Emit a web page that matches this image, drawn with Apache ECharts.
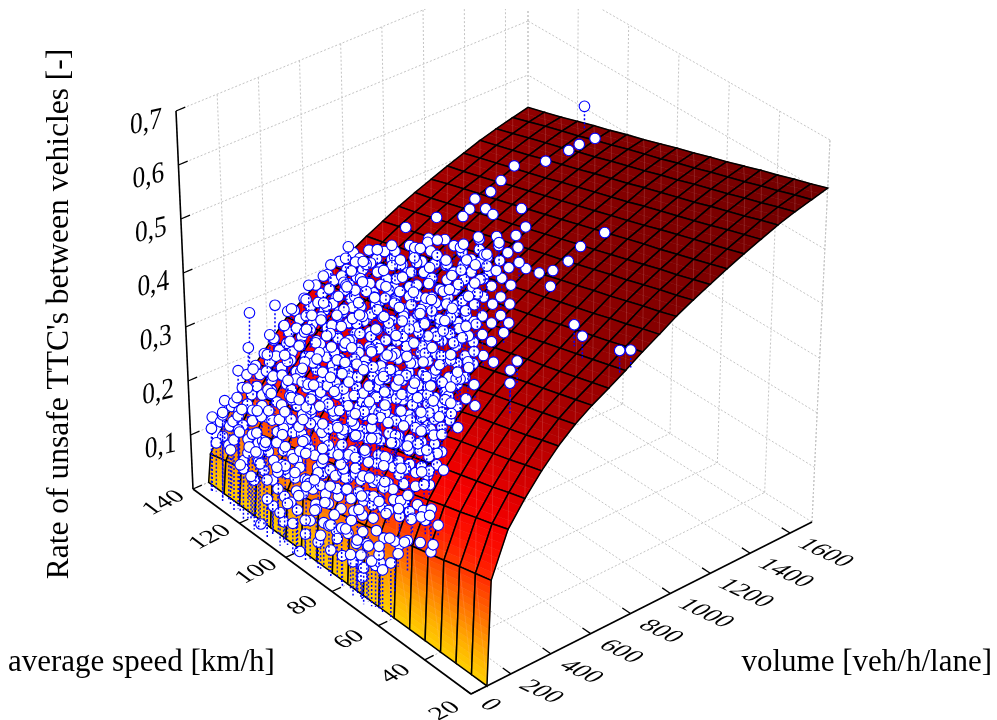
<!DOCTYPE html>
<html><head><meta charset="utf-8">
<style>html,body{margin:0;padding:0;background:#fff}#c{width:997px;height:720px}</style>
<script src="https://cdn.jsdelivr.net/npm/echarts@6/dist/echarts.min.js"></script>
</head><body><div id="c"></div>
<script>
const speedTicks=[20,40,60,80,100,120,140];
const volumeTicks=[0,200,400,600,800,1000,1200,1400,1600];
const rateTicks=[0.1,0.2,0.3,0.4,0.5,0.6,0.7];
const rateLabels=['0,1','0,2','0,3','0,4','0,5','0,6','0,7'];
const titleRate="Rate of unsafe TTC's between vehicles [-]";
const titleSpeed='average speed [km/h]';
const titleVolume='volume [veh/h/lane]';
const surfaceSpeeds=[20,26.67,33.33,40,46.67,53.33,60,66.67,73.33,80,86.67,93.33,100,106.67,113.33,120,126.67,133.33,140];
const surfaceVolumes=[80,95,176,257,338,419,500,581,662,743,824,905,986,1067,1148,1229,1310,1391,1472,1553,1634,1710];
const surfaceRates=[
[0,.18,.255,.295,.33,.36,.385,.405,.422,.44,.46,.478,.497,.513,.528,.543,.557,.57,.583,.594,.603,.612],
[0,.173,.246,.287,.322,.352,.377,.397,.414,.432,.452,.47,.488,.504,.519,.534,.548,.561,.574,.585,.594,.602],
[0,.166,.238,.278,.313,.343,.369,.389,.406,.424,.443,.461,.48,.496,.51,.525,.539,.552,.564,.575,.584,.593],
[0,.158,.229,.27,.305,.335,.361,.381,.398,.416,.435,.453,.471,.487,.502,.516,.53,.542,.555,.566,.575,.583],
[0,.151,.221,.262,.297,.327,.353,.373,.39,.408,.427,.444,.462,.478,.493,.507,.521,.533,.546,.556,.565,.574],
[0,.144,.212,.254,.289,.319,.345,.365,.383,.4,.419,.436,.454,.47,.484,.499,.512,.524,.536,.547,.556,.564],
[0,.137,.203,.245,.28,.31,.336,.356,.375,.391,.41,.428,.445,.461,.475,.49,.502,.515,.527,.538,.547,.554],
[0,.13,.195,.237,.272,.302,.328,.348,.367,.383,.402,.419,.437,.452,.466,.481,.493,.506,.518,.528,.537,.545],
[0,.122,.186,.229,.264,.294,.32,.34,.359,.375,.394,.411,.428,.443,.458,.472,.484,.496,.509,.519,.528,.535],
[0,.115,.178,.22,.255,.285,.312,.332,.351,.367,.385,.402,.42,.435,.449,.463,.475,.487,.499,.509,.518,.526],
[0,.108,.169,.212,.247,.277,.304,.324,.343,.359,.377,.394,.411,.426,.44,.454,.466,.478,.49,.5,.509,.516],
[0,.101,.16,.204,.239,.269,.296,.316,.335,.351,.369,.386,.402,.417,.431,.445,.457,.469,.481,.491,.5,.506],
[0,.094,.152,.195,.23,.26,.288,.308,.327,.343,.36,.377,.394,.409,.422,.436,.448,.46,.471,.481,.49,.497],
[0,.086,.143,.187,.222,.252,.28,.3,.319,.335,.352,.369,.385,.4,.414,.427,.439,.45,.462,.472,.481,.487],
[0,.079,.135,.179,.214,.244,.272,.292,.311,.327,.344,.36,.377,.391,.405,.418,.43,.441,.453,.462,.471,.478],
[0,.072,.126,.171,.206,.236,.264,.284,.304,.319,.336,.352,.368,.383,.396,.41,.42,.432,.443,.453,.462,.468],
[0,.065,.117,.162,.197,.227,.255,.275,.296,.31,.327,.344,.359,.374,.387,.401,.411,.423,.434,.444,.453,.458],
[0,.058,.109,.154,.189,.219,.247,.267,.288,.302,.319,.335,.351,.365,.378,.392,.402,.414,.425,.434,.443,.449],
[0,.05,.10,.145,.18,.21,.24,.26,.28,.295,.31,.327,.342,.357,.37,.382,.394,.405,.416,.425,.433,.44]];
// single observations: speed, volume, rate
const outliers=[114,1671,.518,112,1457,.456,119.5,1393,.437,108.5,1528,.474,107.4,1566,.482,105.4,1619,.49,118.3,1313,.426,117.3,1250,.418,119.7,1201,.406,117.8,1152,.40,117.1,1110,.395,124.8,1072,.378,130.5,987,.357,119.6,970,.37,112.9,1172,.411,108.6,1156,.415,102,1217,.434,94.5,1147,.432,70,1121,.467,67.3,1206,.486,68.5,1043,.457,70,986,.445,66,926,.437,43,766,.456,37,734,.457,21,724,.476,19.5,760,.475,79.4,967,.426,74,967,.433,48,514,.402,49,560,.408,43.5,459,.40,126,155,.343,122,235,.356,121,285,.34,127,155,.276,123,235,.289,130,135,.228,129,85,.173,131.6,65,.113,115.8,60,.002,111,70,.048,106.6,70,.033,99,60,.004,67,70,.074,72,60,.04,75,70,.057,61,120,.12,51,160,.13];
// observations grouped by speed: volume, rate, volume, rate ...
const at135=[55,.14,70,.09,95,.125,120,.16,140,.11,165,.15,190,.13,210,.17,235,.19,255,.15,280,.20,300,.18,325,.215,350,.195,375,.235,400,.21,425,.25,450,.235,480,.27,505,.25,530,.285,560,.265,590,.30,620,.28,650,.31,680,.295,710,.325,745,.305,780,.33,810,.315];
const at130=[50,.16,75,.10,100,.14,125,.18,150,.125,175,.16,200,.145,225,.185,250,.165,275,.205,300,.185,325,.225,350,.20,380,.24,405,.22,430,.26,455,.24,480,.275,510,.255,540,.29,570,.27,600,.305,630,.285,660,.32,695,.30,730,.335,765,.315,800,.345,835,.325];
const at125=[45,.13,70,.17,90,.085,115,.12,140,.15,165,.105,190,.17,215,.145,240,.19,265,.165,290,.21,315,.19,340,.23,365,.205,390,.25,415,.225,440,.27,470,.245,495,.285,525,.26,555,.30,585,.28,615,.315,645,.295,675,.33,710,.31,745,.345,780,.325,815,.355,850,.335];
const at120=[30,.095,55,.12,80,.15,105,.10,130,.13,155,.115,180,.16,205,.135,230,.18,255,.155,280,.20,305,.18,330,.225,355,.20,380,.245,405,.22,430,.26,460,.24,490,.285,515,.26,545,.30,575,.275,605,.32,635,.295,670,.335,700,.31,735,.35,770,.325,805,.36,845,.34,880,.37];
const at115=[25,.09,50,.12,75,.10,100,.13,125,.11,150,.14,175,.12,200,.165,225,.145,250,.19,275,.17,300,.215,325,.195,350,.24,375,.215,400,.255,430,.235,460,.28,490,.26,515,.30,545,.275,575,.32,605,.295,640,.335,670,.315,705,.35,740,.33,775,.365,810,.345,845,.375,880,.355,910,.385];
const at110=[30,.07,60,.10,85,.08,110,.12,135,.10,160,.13,185,.115,210,.16,235,.14,260,.19,285,.17,310,.215,335,.20,360,.245,385,.225,410,.265,440,.245,470,.29,500,.27,530,.315,560,.29,590,.335,620,.31,655,.35,690,.33,725,.365,760,.34,795,.38,830,.355,865,.39,900,.37,935,.40];
const at105=[35,.06,60,.085,90,.07,115,.11,140,.125,165,.10,190,.15,215,.135,240,.18,265,.16,290,.21,315,.19,340,.235,365,.215,390,.26,420,.24,445,.285,475,.265,505,.305,535,.285,565,.33,595,.305,630,.35,665,.33,700,.365,735,.345,770,.38,805,.36,840,.395,880,.375,920,.405,960,.385];
const at100=[40,.055,65,.075,95,.10,120,.12,145,.10,170,.135,195,.12,220,.165,245,.15,270,.195,295,.175,320,.225,345,.205,370,.25,395,.23,425,.275,455,.255,485,.30,515,.28,545,.325,575,.30,610,.345,645,.325,680,.365,715,.345,750,.385,790,.36,825,.40,860,.38,900,.41,945,.39,985,.42];
const at95=[45,.05,70,.07,100,.095,125,.125,150,.105,175,.145,200,.13,225,.175,250,.155,275,.205,300,.185,325,.235,350,.215,375,.26,405,.24,430,.285,460,.265,490,.31,520,.29,550,.335,585,.31,620,.355,655,.335,690,.375,725,.355,765,.395,805,.37,845,.41,885,.39,925,.425,965,.405,1010,.435];
const at90=[50,.05,80,.08,105,.11,130,.135,155,.115,180,.155,205,.14,230,.185,255,.165,280,.215,305,.195,330,.245,355,.225,385,.27,410,.25,440,.295,470,.275,500,.32,530,.30,565,.345,600,.325,635,.365,670,.345,710,.385,750,.365,790,.405,830,.385,870,.425,915,.40,960,.44,1005,.42,1045,.445];
const at85=[55,.05,85,.08,110,.115,135,.145,160,.125,185,.165,210,.15,235,.195,260,.175,285,.225,310,.205,340,.255,365,.235,395,.28,425,.26,455,.305,485,.285,515,.33,550,.31,585,.355,620,.335,660,.375,700,.355,740,.395,780,.375,825,.415,865,.395,905,.435,950,.415,995,.445];
const at80=[55,.055,85,.09,115,.125,140,.155,165,.135,190,.175,215,.16,240,.205,265,.185,295,.235,320,.215,350,.265,375,.245,405,.29,435,.27,465,.315,495,.295,530,.34,565,.32,600,.365,640,.345,680,.385,720,.365,765,.405,810,.385,855,.425,900,.405,940,.44];
const at75=[50,.06,75,.095,100,.135,125,.165,150,.145,175,.185,200,.17,230,.215,255,.195,285,.245,310,.225,340,.275,370,.255,400,.30,430,.28,465,.325,500,.305,540,.35,575,.33,615,.375,655,.355,700,.395,745,.375,790,.415,835,.395];
const at70=[45,.065,70,.10,95,.145,120,.175,145,.155,170,.195,195,.18,225,.225,250,.205,280,.255,310,.235,340,.285,370,.265,405,.31,440,.29,475,.335,515,.315,555,.36,595,.34,640,.385,685,.365,730,.405,770,.385];
const at65=[70,.085,90,.125,115,.17,140,.185,165,.165,190,.205,220,.235,250,.215,280,.265,310,.245,345,.295,380,.275,415,.32,455,.30,495,.345,540,.325,585,.37,635,.35,685,.395];
const at60=[65,.10,85,.135,110,.175,135,.195,160,.175,190,.215,220,.245,250,.225,285,.275,320,.255,360,.305,400,.285,440,.33,485,.31];
const at55=[90,.15,115,.185,140,.205,170,.19,200,.23,235,.26,270,.245];
const at50=[95,.16,120,.195,150,.21];
const at45=[100,.17,125,.20];
const speedGroups=[[135,at135],[130,at130],[125,at125],[120,at120],[115,at115],[110,at110],[105,at105],[100,at100],[95,at95],[90,at90],[85,at85],[80,at80],[75,at75],[70,at70],[65,at65],[60,at60],[55,at55],[50,at50],[45,at45]];
// further observations in the dense core: speed, volume, rate
const denseCore=[128,104,.13,121,118,.107,116,101,.138,110,122,.11,105,108,.146,99,116,.118,94,103,.154,88,125,.14,83,112,.176,77,106,.138,72,120,.174,66,113,.162,61,127,.197,55,109,.184,
131,158,.15,126,171,.12,122,150,.165,117,166,.13,113,155,.17,108,176,.14,103,148,.18,98,169,.15,94,157,.195,89,172,.165,85,152,.205,80,163,.18,75,175,.215,70,149,.19,65,167,.225,60,156,.205,55,173,.235,
133,212,.175,128,200,.15,124,219,.19,119,205,.16,115,224,.205,110,198,.175,106,215,.215,101,207,.19,97,226,.23,92,201,.195,88,218,.24,83,209,.21,79,222,.25,74,204,.225,70,216,.26,65,199,.23,61,225,.27,56,211,.25,
134,255,.20,129,268,.175,125,250,.215,120,272,.19,116,258,.235,111,248,.20,107,265,.245,102,275,.215,98,252,.26,93,263,.225,89,270,.27,84,256,.24,80,247,.28,75,268,.25,71,259,.29,66,273,.26,62,251,.30,57,262,.27,
132,305,.225,127,318,.20,123,300,.24,118,312,.215,114,322,.26,109,298,.225,105,309,.27,100,320,.24,96,303,.285,91,315,.25,87,325,.295,82,301,.265,78,311,.305,73,319,.275,69,299,.315,64,313,.285,60,323,.325,
135,355,.245,130,368,.22,126,350,.26,121,362,.235,117,372,.28,112,348,.245,108,359,.29,103,370,.26,99,353,.305,94,365,.27,90,375,.315,85,351,.285,81,361,.325,76,369,.295,72,349,.335,67,363,.305,63,373,.345,59,356,.32,
133,405,.26,128,418,.235,124,400,.275,119,412,.25,115,422,.295,110,398,.265,106,409,.31,101,420,.275,97,403,.325,92,415,.29,88,425,.335,83,401,.305,79,411,.345,74,419,.315,70,399,.355,65,413,.325,61,423,.365,
134,455,.28,129,468,.255,125,450,.295,120,462,.27,116,472,.315,111,448,.285,107,459,.33,102,470,.295,98,453,.345,93,465,.31,89,475,.355,84,451,.325,80,461,.365,75,469,.335,71,449,.375,66,463,.345,62,473,.385,
132,505,.295,127,518,.27,123,500,.31,118,512,.285,114,522,.33,109,498,.30,105,509,.345,100,520,.31,96,503,.36,91,515,.325,87,525,.37,82,501,.34,78,511,.38,73,519,.35,69,499,.39,65,513,.36,
135,555,.305,130,568,.285,126,550,.325,121,562,.30,117,572,.345,112,548,.315,108,559,.36,103,570,.325,99,553,.375,94,565,.34,90,575,.385,85,551,.355,81,561,.395,76,569,.365,72,549,.405,67,563,.375,
133,605,.32,128,618,.295,124,600,.335,119,612,.31,115,622,.355,110,598,.325,106,609,.37,101,620,.335,97,603,.385,92,615,.35,88,625,.395,83,601,.365,79,611,.405,74,619,.375,70,599,.415,
134,655,.33,129,668,.305,125,650,.345,120,662,.32,116,672,.365,111,648,.335,107,659,.38,102,670,.345,98,653,.395,93,665,.36,89,675,.405,84,651,.375,80,661,.415,75,669,.385,
132,705,.34,127,718,.315,123,700,.355,118,712,.33,114,722,.375,109,698,.345,105,709,.39,100,720,.355,96,703,.405,91,715,.37,87,725,.415,82,701,.385,78,711,.425,
135,755,.345,130,768,.33,126,750,.365,121,762,.34,117,772,.385,112,748,.355,108,759,.40,103,770,.365,99,753,.415,94,765,.38,90,775,.425,85,751,.395,81,761,.435,
128,815,.35,123,828,.37,118,810,.36,113,822,.395,108,835,.37,103,812,.41,98,825,.385,93,838,.425,88,818,.40,84,830,.44,
116,885,.375,110,898,.405,105,880,.385,100,892,.42,95,905,.40,90,888,.435,86,900,.415,
104,955,.405,99,968,.43,94,950,.415,90,962,.445];
// observations at lower volumes, front of the cloud: speed, volume, rate
const lowerCore=[136,60,.115,133,85,.15,128,60,.10,126,85,.135,124,60,.085,122,85,.12,119,55,.08,117,80,.105,
118,72,.125,113,66,.09,109,78,.115,104,62,.075,101,74,.105,97,68,.065,93,79,.095,90,63,.06,87,71,.085,84,77,.07,81,65,.10,78,73,.06,76,79,.085,73,67,.075,71,74,.10,68,62,.08,66,76,.095,64,70,.075,
116,92,.14,111,98,.105,107,90,.13,102,96,.09,98,88,.12,95,94,.085,91,99,.11,88,92,.08,86,87,.105,82,97,.09,79,91,.115,77,96,.085,74,89,.11,72,93,.09,69,99,.125,67,88,.105,63,95,.13,59,90,.115,57,98,.14,
119,133,.13,114,128,.10,111,139,.145,106,126,.115,102,136,.16,98,130,.125,95,141,.17,91,127,.135,87,135,.185,84,129,.15,81,138,.195,78,132,.155,74,126,.20,71,137,.165,68,131,.21,63,140,.175,58,128,.215,53,135,.19,49,130,.205,
122,188,.17,117,195,.14,112,183,.185,108,192,.155,104,186,.20,100,197,.165,96,184,.215,93,193,.175,90,187,.23,86,196,.19,83,182,.24,80,191,.20,77,198,.25,73,185,.215,69,194,.265,66,189,.23,62,181,.275,58,197,.245,54,186,.285,
125,238,.185,120,245,.165,116,233,.205,112,242,.175,108,236,.225,104,247,.19,100,231,.24,97,240,.205,93,246,.255,89,235,.215,86,243,.265,82,232,.23,79,241,.275,75,248,.24,72,234,.29,68,244,.255,64,237,.30,60,246,.27,56,233,.31,
122,288,.21,118,295,.185,113,283,.23,109,292,.20,105,286,.25,101,297,.215,98,284,.265,94,293,.23,90,287,.28,87,296,.24,84,282,.29,80,291,.255,77,298,.305,73,285,.27,70,294,.315,66,289,.28,62,281,.325,58,297,.295,
120,338,.23,116,345,.21,111,333,.25,107,342,.225,103,336,.27,99,347,.24,96,331,.285,92,340,.25,88,346,.30,85,335,.265,81,343,.31,78,332,.275,74,341,.325,71,348,.29,67,334,.335,63,344,.305,60,337,.345,
118,388,.245,113,395,.225,109,383,.27,105,392,.24,101,386,.285,97,397,.255,94,384,.30,90,393,.265,87,387,.315,83,396,.28,80,382,.325,76,391,.295,73,398,.34,69,385,.31,66,394,.35,62,389,.325,
116,438,.265,111,445,.25,107,433,.29,103,442,.26,99,436,.305,95,447,.27,92,431,.32,88,440,.285,85,446,.335,81,435,.30,78,443,.345,74,432,.315,71,441,.36,67,448,.33,63,434,.37,
122,538,.29,116,545,.30,112,533,.32,106,542,.31,102,536,.345,98,547,.32,94,531,.36,90,540,.33,86,546,.375,82,535,.345,78,543,.385,74,532,.355,70,541,.395,
126,638,.315,120,645,.34,114,633,.33,110,642,.36,104,636,.34,99,647,.38,95,631,.355,91,640,.39,86,646,.365,82,635,.40,77,643,.38];

// ranges of the 3D box
const S0=20,S1=140,V1=1710,Z1=0.7;
// screen positions of the box corners (perspective view, in the hidden 2D axes' units)
const C={f0:[471,694],l0:[193,489],r0:[812,522],b0:[528,345],f1:[475,288],l1:[176,111],r1:[830,140],b1:[528,-33]};
function proj(s,v,z){
  const a=(s-S0)/(S1-S0),b=v/V1,c=z/Z1,o=[];
  for(let i=0;i<2;i++){
    const lo=C.f0[i]*(1-a)*(1-b)+C.l0[i]*a*(1-b)+C.r0[i]*(1-a)*b+C.b0[i]*a*b;
    const hi=C.f1[i]*(1-a)*(1-b)+C.l1[i]*a*(1-b)+C.r1[i]*(1-a)*b+C.b1[i]*a*b;
    o.push(lo*(1-c)+hi*c);
  }
  return o;
}
function surfAt(s,v){
  if(v<=surfaceVolumes[0])return 0;
  let i=0,j=0;
  while(i<surfaceSpeeds.length-2&&surfaceSpeeds[i+1]<s)i++;
  while(j<surfaceVolumes.length-2&&surfaceVolumes[j+1]<v)j++;
  const a=Math.min(1,Math.max(0,(s-surfaceSpeeds[i])/(surfaceSpeeds[i+1]-surfaceSpeeds[i])));
  const b=Math.min(1,Math.max(0,(v-surfaceVolumes[j])/(surfaceVolumes[j+1]-surfaceVolumes[j])));
  const q=surfaceRates;
  return q[i][j]*(1-a)*(1-b)+q[i+1][j]*a*(1-b)+q[i][j+1]*(1-a)*b+q[i+1][j+1]*a*b;
}
const stops=[[0,255,208,0],[.05,255,170,0],[.1,255,120,0],[.15,255,70,0],[.2,255,20,0],[.25,245,0,0],[.3,215,0,0],[.35,185,0,0],[.4,160,0,0],[.45,140,0,0],[.5,130,0,0],[.6,115,0,0],[.7,105,0,0]];
function colorOf(z){
  let i=0;while(i<stops.length-2&&stops[i+1][0]<z)i++;
  const p=stops[i],q=stops[i+1],t=Math.max(0,Math.min(1,(z-p[0])/(q[0]-p[0])));
  return 'rgb('+[1,2,3].map(k=>Math.round(p[k]+(q[k]-p[k])*t)).join(',')+')';
}
// dotted walls & floor, solid axes
const gridSegs=[],axisSegs=[];
speedTicks.forEach(s=>{gridSegs.push([s,0,0,s,V1,0]);gridSegs.push([s,V1,0,s,V1,Z1]);});
volumeTicks.forEach(v=>{gridSegs.push([S0,v,0,S1,v,0]);gridSegs.push([S1,v,0,S1,v,Z1]);});
rateTicks.forEach(z=>{gridSegs.push([S1,0,z,S1,V1,z]);gridSegs.push([S0,V1,z,S1,V1,z]);});
gridSegs.push([S1,0,0,S1,V1,0],[S0,V1,0,S1,V1,0],[S0,V1,0,S0,V1,Z1],[S1,V1,0,S1,V1,Z1]);
axisSegs.push([S0,0,0,S1,0,0],[S0,0,0,S0,V1,0],[S1,0,0,S1,0,Z1]);
function segItem(color,width,dash){
  return function(p,api){
    const d=[0,1,2,3,4,5].map(i=>api.value(i));
    const a=api.coord(proj(d[0],d[1],d[2])),b=api.coord(proj(d[3],d[4],d[5]));
    return {type:'line',shape:{x1:a[0],y1:a[1],x2:b[0],y2:b[1]},style:{stroke:color,lineWidth:width,lineDash:dash||null},silent:true};
  };
}
// tick marks: short strokes running along the floor or wall
const tickData=[];
speedTicks.forEach(s=>tickData.push(['s',s]));
volumeTicks.forEach(v=>tickData.push(['v',v]));
rateTicks.forEach(z=>tickData.push(['z',z]));
function tickItem(p,api){
  const t=tickData[p.dataIndex];let a,b;
  if(t[0]==='s'){a=proj(t[1],0,0);b=proj(t[1],45,0);}
  else if(t[0]==='v'){a=proj(S0,t[1],0);b=proj(S0+3.5,t[1],0);}
  else{a=proj(S1,0,t[1]);b=proj(S1,45,t[1]);}
  a=api.coord(a);b=api.coord(b);
  return {type:'line',shape:{x1:a[0],y1:a[1],x2:b[0],y2:b[1]},style:{stroke:'#000',lineWidth:1.3},silent:true};
}
// surface cells, drawn back to front
const cells=[];
for(let i=surfaceSpeeds.length-2;i>=0;i--)for(let j=surfaceVolumes.length-2;j>=0;j--)cells.push([i,j]);
function cellItem(p,api){
  const [i,j]=cells[p.dataIndex];
  const s0=surfaceSpeeds[i],s1=surfaceSpeeds[i+1],v0=surfaceVolumes[j],v1=surfaceVolumes[j+1],q=surfaceRates;
  const z00=q[i][j],z10=q[i+1][j],z01=q[i][j+1],z11=q[i+1][j+1];
  const pt=(s,v,z)=>api.coord(proj(s,v,z));
  const dz=Math.max(Math.abs(z01-z00),Math.abs(z11-z10));
  const n=Math.max(2,Math.ceil(dz/0.012));
  const kids=[];
  for(let k=0;k<n;k++){
    const t0=k/n,t1=(k+1)/n;
    const za0=z00+(z01-z00)*t0,za1=z00+(z01-z00)*t1,zb0=z10+(z11-z10)*t0,zb1=z10+(z11-z10)*t1;
    const va0=v0+(v1-v0)*t0,va1=v0+(v1-v0)*t1;
    const col=colorOf((za0+za1+zb0+zb1)/4);
    kids.push({type:'polygon',shape:{points:[pt(s0,va0,za0),pt(s0,va1,za1),pt(s1,va1,zb1),pt(s1,va0,zb0)]},style:{fill:col,stroke:col,lineWidth:.6},silent:true});
  }
  const A=pt(s0,v0,z00),B=pt(s0,v1,z01),C2=pt(s1,v1,z11),D=pt(s1,v0,z10);
  kids.push({type:'line',shape:{x1:A[0],y1:A[1],x2:C2[0],y2:C2[1]},style:{stroke:'rgba(255,200,200,.22)',lineWidth:.7},silent:true});
  kids.push({type:'polygon',shape:{points:[A,B,C2,D]},style:{fill:null,stroke:'#000',lineWidth:1.5},silent:true});
  return {type:'group',children:kids};
}
// scatter
const points=[];
for(let i=0;i<outliers.length;i+=3)points.push([outliers[i],outliers[i+1],outliers[i+2]]);
speedGroups.forEach(g=>{for(let i=0;i<g[1].length;i+=2)points.push([g[0],g[1][i],g[1][i+1]]);});
for(let i=0;i<denseCore.length;i+=3)points.push([denseCore[i],denseCore[i+1],denseCore[i+2]]);
for(let i=0;i<lowerCore.length;i+=3)points.push([lowerCore[i],lowerCore[i+1],lowerCore[i+2]]);
function pointItem(p,api){
  const s=api.value(0),v=api.value(1),r=api.value(2);
  const a=api.coord(proj(s,v,r)),b=api.coord(proj(s,v,surfAt(s,v)));
  return {type:'group',children:[
    {type:'line',shape:{x1:a[0],y1:a[1],x2:a[0],y2:b[1]},style:{stroke:'#0000ff',lineWidth:1.5,lineDash:[2,2]},silent:true},
    {type:'circle',shape:{cx:a[0],cy:a[1],r:5.3},style:{fill:'#fff',stroke:'#0000ff',lineWidth:1.1},silent:true}
  ]};
}
// tick labels
const labelData=[];
speedTicks.forEach(s=>labelData.push(['s',s,String(s)]));
volumeTicks.forEach(v=>labelData.push(['v',v,String(v)]));
rateTicks.forEach((z,i)=>labelData.push(['z',z,rateLabels[i]]));
function labelItem(p,api){
  const t=labelData[p.dataIndex];let a,o,size=26;
  if(t[0]==='s'){a=api.coord(proj(t[1],0,0));const d=t[1]===20?[-26,17]:[-29,14];o={x:a[0]+d[0],y:a[1]+d[1],rotation:.47,skewX:.45,scaleX:1,scaleY:.82};}
  else if(t[0]==='v'){a=api.coord(proj(S0,t[1],0));const d=t[1]===0?[19,11]:t[1]<1000?[30,18]:[35,20];o={x:a[0]+d[0],y:a[1]+d[1],rotation:-.44,skewX:-.59,scaleX:1,scaleY:.82};}
  else{a=api.coord(proj(S1,0,t[1]));size=29;o={x:a[0]-30,y:a[1]+12,rotation:.23,skewX:-.23,scaleX:.9,scaleY:1};}
  return Object.assign(o,{type:'text',silent:true,style:{text:t[2],fill:'#000',font:size+'px "Liberation Serif"',align:'center',verticalAlign:'middle'}});
}
const chart=echarts.init(document.getElementById('c'),null,{renderer:'canvas'});
const baseCustom={type:'custom',coordinateSystem:'cartesian2d',animation:false,silent:true,progressive:0};
chart.setOption({
  animation:false,backgroundColor:'#fff',
  grid:{left:0,right:0,top:9,bottom:0,containLabel:false},
  xAxis:{type:'value',min:0,max:997,show:false},
  yAxis:{type:'value',min:9,max:720,inverse:true,show:false},
  graphic:[
    {type:'text',x:60,y:314,rotation:Math.PI/2,style:{text:titleRate,font:'31.5px "Liberation Serif"',fill:'#000',align:'center',verticalAlign:'middle'},silent:true},
    {type:'text',x:8,y:663,style:{text:titleSpeed,font:'31px "Liberation Serif"',fill:'#000',align:'left',verticalAlign:'middle'},silent:true},
    {type:'text',x:992,y:663,style:{text:titleVolume,font:'31px "Liberation Serif"',fill:'#000',align:'right',verticalAlign:'middle'},silent:true}
  ],
  series:[
    Object.assign({},baseCustom,{clip:true,data:gridSegs,renderItem:segItem('#c4c4c4',1,[2,2]),z:1}),
    Object.assign({},baseCustom,{clip:false,data:axisSegs,renderItem:segItem('#000',1.6),z:2}),
    Object.assign({},baseCustom,{clip:false,data:tickData.map((t,i)=>[i,0]),renderItem:tickItem,z:2}),
    Object.assign({},baseCustom,{clip:false,data:cells.map((t,i)=>[i,0]),renderItem:cellItem,z:3}),
    Object.assign({},baseCustom,{clip:false,data:points,renderItem:pointItem,z:4}),
    Object.assign({},baseCustom,{clip:false,data:labelData.map((t,i)=>[i,0]),renderItem:labelItem,z:5})
  ]
});
</script></body></html>
